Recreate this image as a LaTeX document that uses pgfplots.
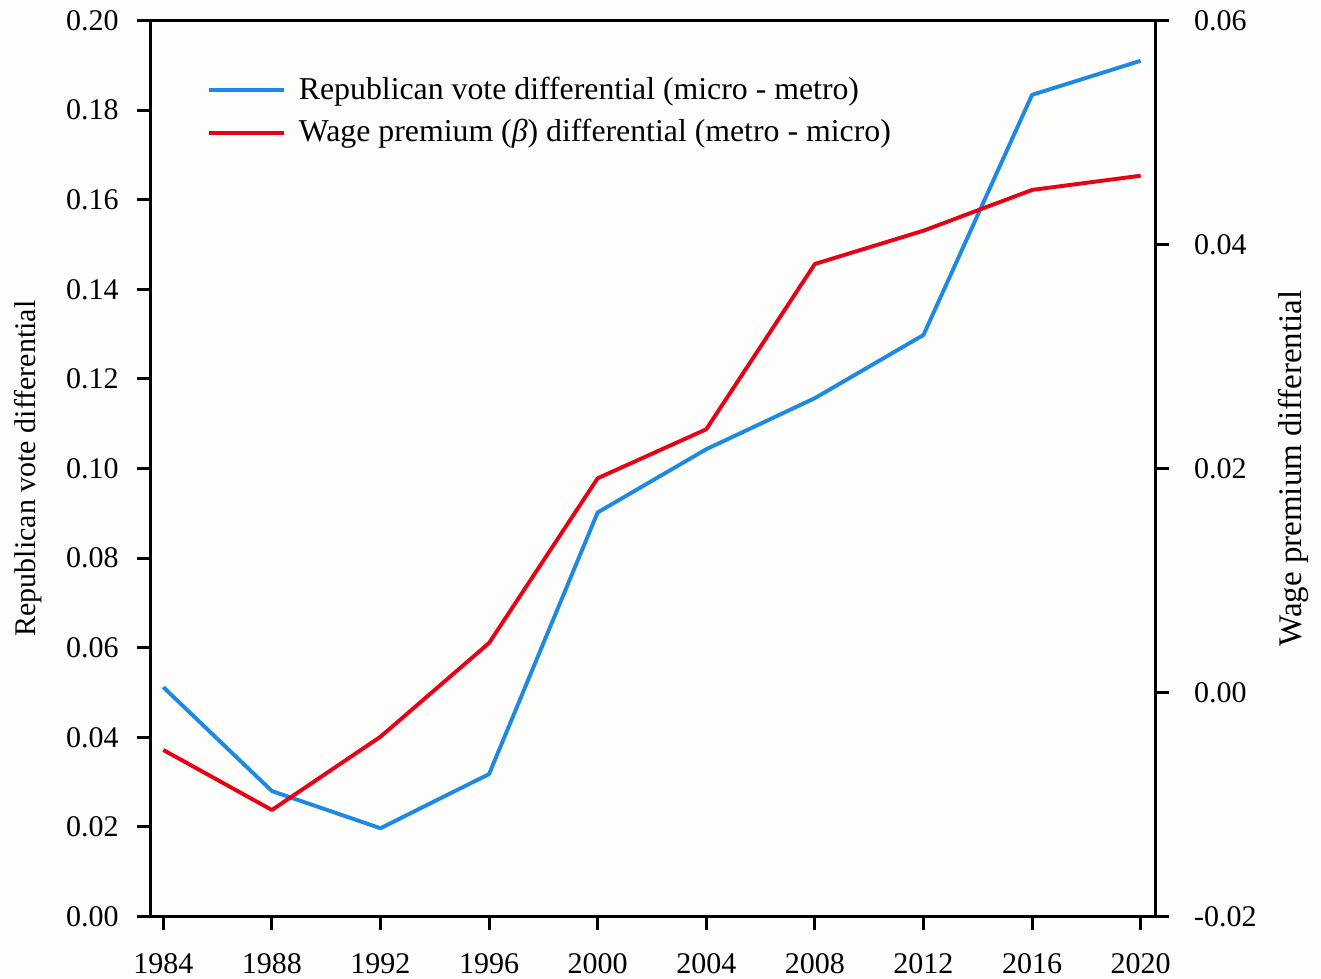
\documentclass[border=0pt]{standalone}
\usepackage{fontspec}
\setmainfont{LiberationSerif}[Extension=.ttf, UprightFont=*-Regular, ItalicFont=*-Italic, BoldFont=*-Bold, BoldItalicFont=*-BoldItalic]
\usepackage{pgfplots}
\pgfplotsset{compat=1.18}
\definecolor{vblue}{RGB}{30,136,229}
\definecolor{wred}{RGB}{232,0,20}
\definecolor{bgcol}{RGB}{253,253,251}
\begin{document}
\fontsize{10}{12}\selectfont
\begin{tikzpicture}
\fill[bgcol] (0,0) rectangle (440.33pt,326pt);
\useasboundingbox (0,0) rectangle (440.33pt,326pt);
\pgfplotsset{
  common/.style={
    at={(50pt,20.5pt)}, anchor=south west,
    scale only axis, width=335pt, height=298.67pt,
    xmin=1983.51, xmax=2020.53,
    tick align=outside, major tick length=4.5pt,
    every tick/.style={black, line width=1pt},
    axis line style={line width=1pt},
    /pgf/number format/assume math mode=true,
    tick label style={font=\fontsize{10}{12}\selectfont},
    label style={font=\fontsize{11}{13}\selectfont},
  }
}
\begin{axis}[common,
  axis lines=box,
  xtick pos=bottom, ytick pos=left,
  xtick={1984,1988,...,2020},
  xticklabel style={/pgf/number format/1000 sep={}, yshift=-4.4pt},
  ymin=0, ymax=0.2,
  ytick={0,0.02,...,0.201},
  yticklabel style={/pgf/number format/.cd, fixed, fixed zerofill, precision=2, /tikz/.cd, xshift=-2.4pt},
  ylabel={Republican vote differential},
  ylabel style={at={(axis description cs:-0.121,0.5)}, anchor=center, rotate=0},
  legend style={at={(axis description cs:0.0568,0.9437)}, anchor=north west, draw=none, fill=none, inner sep=0pt, outer sep=0pt, row sep=1.2pt, column sep=2.3pt, font=\fontsize{10.6}{12.7}\selectfont},
  legend cell align=left,
  legend image code/.code={\draw[#1] (0pt,0pt) -- (25pt,0pt);},
]
\addplot[vblue, line width=1.3pt, line join=round] coordinates {
(1984,0.0512) (1988,0.0280) (1992,0.0197) (1996,0.0318) (2000,0.0902)
(2004,0.1043) (2008,0.1157) (2012,0.1298) (2016,0.1834) (2020,0.1910)};
\addlegendentry{Republican vote differential (micro - metro)}
\addlegendimage{wred, line width=1.3pt}
\addlegendentry{Wage premium (\textit{β}) differential (metro - micro)}
\end{axis}
\begin{axis}[common,
  axis x line=none, axis y line*=right,
  ymin=-0.02, ymax=0.06,
  ytick={-0.02,0,0.02,0.04,0.06},
  scaled y ticks=false,
  yticklabel style={/pgf/number format/.cd, fixed, fixed zerofill, precision=2, /tikz/.cd, xshift=5pt},
  ylabel={Wage premium differential},
  ylabel style={at={(axis description cs:1.138,0.5)}, anchor=center, rotate=0},
]
\addplot[wred, line width=1.3pt, line join=round] coordinates {
(1984,-0.00513) (1988,-0.01049) (1992,-0.00395) (1996,0.00442) (2000,0.01913)
(2004,0.0235) (2008,0.03826) (2012,0.04123) (2016,0.04487) (2020,0.04614)};
\end{axis}
\end{tikzpicture}
\end{document}
